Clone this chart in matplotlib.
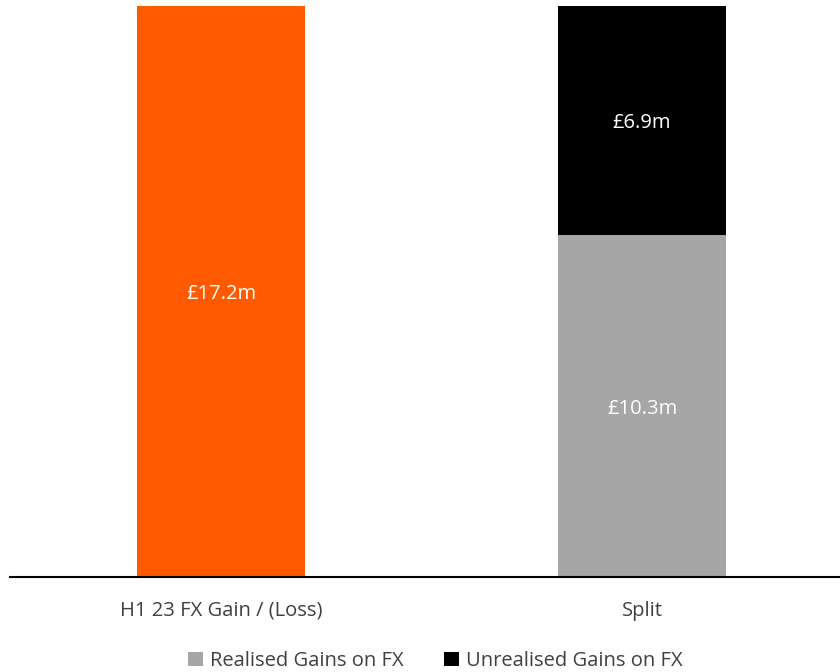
import matplotlib
matplotlib.use("Agg")
import matplotlib.pyplot as plt

plt.rcParams['font.family'] = ['Open Sans', 'DejaVu Sans']

categories = ["H1 23 FX Gain / (Loss)", "Split"]
total_gain = [17.2, None]
realised = [None, 10.3]
unrealised = [None, 6.9]

orange = "#FF5A00"
grey = "#A6A6A6"
black = "#000000"
text_grey = "#404040"

fig = plt.figure(figsize=(8.4, 6.72), dpi=100)
ax = fig.add_axes([10 / 840, 95 / 672, 830 / 840, 577 / 672])

width = 0.4
label_size = 14.5

# Total FX gain
ax.bar(0, total_gain[0], width=width, color=orange, zorder=2)
ax.text(0, total_gain[0] / 2, f"£{total_gain[0]:.1f}m", color="white",
        ha="center", va="center_baseline", fontsize=label_size)

# Split into realised / unrealised
ax.bar(1, realised[1], width=width, color=grey, zorder=2, label="Realised Gains on FX")
ax.bar(1, unrealised[1], bottom=realised[1], width=width, color=black, zorder=2,
       label="Unrealised Gains on FX")
ax.text(1, realised[1] / 2, f"£{realised[1]:.1f}m", color="white",
        ha="center", va="center_baseline", fontsize=label_size)
ax.text(1, realised[1] + unrealised[1] / 2, f"£{unrealised[1]:.1f}m", color="white",
        ha="center", va="center_baseline", fontsize=label_size)

ax.set_xlim(-0.501, 1.47)
ax.set_ylim(0, 17.38)
for side in ("top", "right", "left"):
    ax.spines[side].set_visible(False)
ax.spines["bottom"].set_linewidth(1.5)
ax.spines["bottom"].set_color("black")
ax.set_yticks([])
ax.set_xticks([0, 1])
ax.set_xticklabels(categories, fontsize=label_size, color=text_grey)
ax.tick_params(axis="x", length=0, pad=17)

handles, labels = ax.get_legend_handles_labels()
fig.legend(handles, labels, loc="center", bbox_to_anchor=(435 / 840, 11 / 672),
           ncol=2, frameon=False, fontsize=14.5, handlelength=0.75, handleheight=0.75,
           handletextpad=0.35, columnspacing=2.0, labelcolor=text_grey)

fig.savefig("out.png", dpi=100)
